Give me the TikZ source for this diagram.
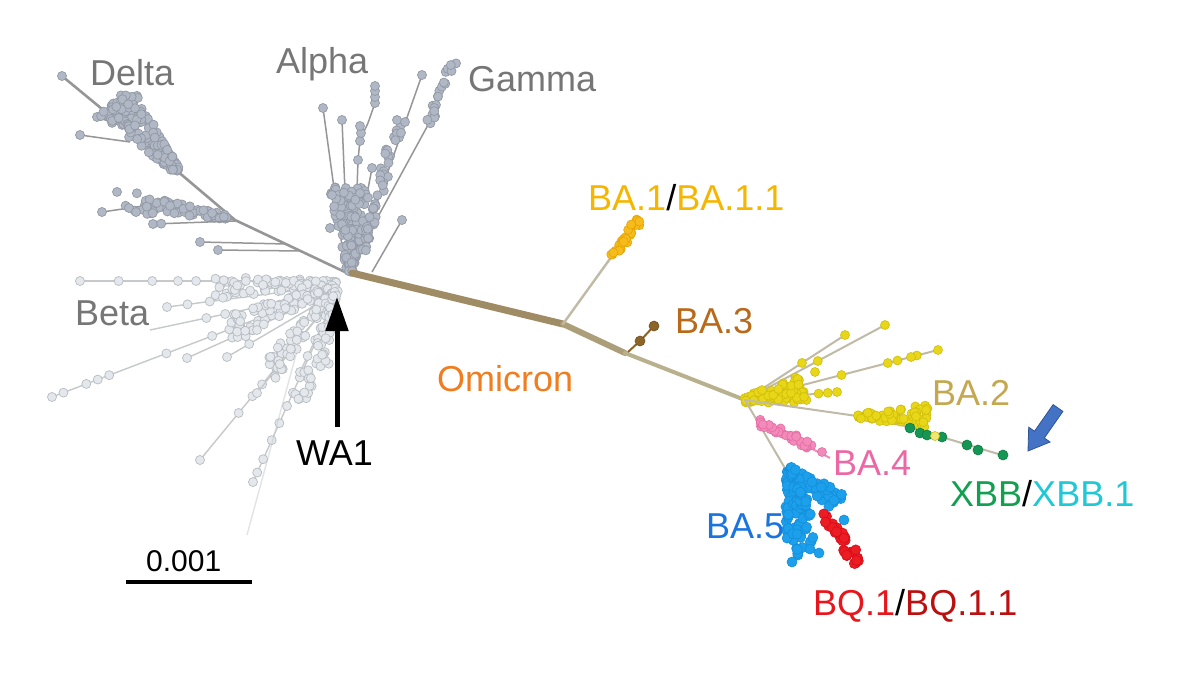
\documentclass[tikz,border=0pt]{standalone}
\usepackage{fontspec}
\setmainfont{Liberation Sans}
\usetikzlibrary{calc,arrows.meta}
\definecolor{cGrayTxt}{RGB}{118,118,118}
\definecolor{cDfill}{RGB}{176,184,198}
\definecolor{cDdraw}{RGB}{146,152,164}
\definecolor{cDline}{RGB}{150,150,152}
\definecolor{cBfill}{RGB}{228,232,237}
\definecolor{cBdraw}{RGB}{182,188,194}
\definecolor{cBline}{RGB}{198,200,202}
\definecolor{cTrunkA}{RGB}{160,140,100}
\definecolor{cTrunkB}{RGB}{172,158,120}
\definecolor{cTrunkC}{RGB}{185,176,142}
\definecolor{cTwig}{RGB}{192,186,166}
\definecolor{cYfill}{RGB}{232,214,24}
\definecolor{cYdraw}{RGB}{208,190,10}
\definecolor{cGfill}{RGB}{246,188,30}
\definecolor{cGdraw}{RGB}{230,165,0}
\definecolor{cBrown}{RGB}{140,100,40}
\definecolor{cPfill}{RGB}{242,138,186}
\definecolor{cPdraw}{RGB}{228,108,164}
\definecolor{cBlfill}{RGB}{28,160,236}
\definecolor{cBldraw}{RGB}{20,142,218}
\definecolor{cRfill}{RGB}{236,28,36}
\definecolor{cRdraw}{RGB}{214,12,22}
\definecolor{cGrfill}{RGB}{22,150,84}
\definecolor{cGrdraw}{RGB}{10,124,64}
\definecolor{tOmi}{RGB}{240,125,30}
\definecolor{tBA1}{RGB}{246,182,0}
\definecolor{tBA3}{RGB}{184,106,26}
\definecolor{tBA2}{RGB}{196,168,80}
\definecolor{tBA4}{RGB}{236,104,164}
\definecolor{tXBB}{RGB}{18,160,80}
\definecolor{tXBB1}{RGB}{32,200,214}
\definecolor{tBA5}{RGB}{26,116,224}
\definecolor{tBQ1}{RGB}{232,22,28}
\definecolor{tBQ11}{RGB}{186,16,16}
\definecolor{cArrow}{RGB}{68,114,196}
\definecolor{cArrowD}{RGB}{47,85,151}

% blob{style}{ax}{ay}{bx}{by}{n}{w0}{w1}
\newcommand\blob[8]{%
  \pgfmathsetmacro\zdx{#4-#2}%
  \pgfmathsetmacro\zdy{#5-#3}%
  \pgfmathsetmacro\zlen{veclen(\zdx,\zdy)}%
  \pgfmathsetmacro\znx{-\zdy/\zlen}%
  \pgfmathsetmacro\zny{\zdx/\zlen}%
  \foreach \zi in {1,...,#6}{%
    \pgfmathsetmacro\zu{rnd}%
    \pgfmathsetmacro\zv{(2*rnd-1)*(#7+(#8-#7)*\zu)}%
    \pgfmathsetmacro\zx{#2+\zu*\zdx+\zv*\znx}%
    \pgfmathsetmacro\zy{#3+\zu*\zdy+\zv*\zny}%
    \node[#1] at (\zx,\zy) {};
  }}
% tw{linestyle}{dotstyle}{a}{b}{fractions}
\newcommand\tw[5]{%
  \draw[#1] (#3) -- (#4);
  \foreach \ff in {#5}{\node[#2] at ($(#3)!\ff!(#4)$) {};}}

\begin{document}
\begin{tikzpicture}[x=1pt,y=-1pt,
  dl/.style={draw=cDline, line width=1.5pt},
  dlT/.style={draw=cDline, line width=2.6pt, line cap=round, line join=round},
  bl/.style={draw=cBline, line width=1.4pt},
  dd/.style={circle, inner sep=0pt, minimum size=9pt, fill=cDfill, draw=cDdraw, line width=0.7pt},
  bd/.style={circle, inner sep=0pt, minimum size=9pt, fill=cBfill, draw=cBdraw, line width=0.7pt},
  yd/.style={circle, inner sep=0pt, minimum size=9pt, fill=cYfill, draw=cYdraw, line width=0.6pt},
  gd/.style={circle, inner sep=0pt, minimum size=9pt, fill=cGfill, draw=cGdraw, line width=0.6pt},
  pd/.style={circle, inner sep=0pt, minimum size=9pt, fill=cPfill, draw=cPdraw, line width=0.6pt},
  bld/.style={circle, inner sep=0pt, minimum size=10pt, fill=cBlfill, draw=cBldraw, line width=0.6pt},
  rd/.style={circle, inner sep=0pt, minimum size=10pt, fill=cRfill, draw=cRdraw, line width=0.6pt},
  grd/.style={circle, inner sep=0pt, minimum size=10pt, fill=cGrfill, draw=cGrdraw, line width=0.6pt},
  brd/.style={circle, inner sep=0pt, minimum size=10pt, fill=cBrown, draw=cBrown!80!black, line width=0.6pt},
  twig/.style={draw=cTwig, line width=2pt, line cap=round, line join=round},
  lab/.style={inner sep=0pt, anchor=base west, font=\fontsize{36}{40}\selectfont},
  ]
\useasboundingbox[fill=white] (0,0) rectangle (1200,675);
\pgfmathsetseed{4242}

% ================= Beta (light grey) =================
\tw{bl}{bd}{338,281}{80,281}{1,.85,.72,.62,.55,.45}
\tw{bl}{bd}{338,285}{167,307}{1,.88,.75}
\tw{bl}{bd}{338,288}{52,397}{1,.96,.88,.84,.80,.60,.44,.38}
\tw{bl}{bd}{338,290}{187,358}{1,.7}
\tw{bl}{bd}{338,292}{227,357}{1,.8}
\tw{bl}{bd}{338,292}{200,460}{1,.72,.62,.55,.45}
\tw{bl}{bd}{338,292}{253,482}{1,.95,.88,.78,.69,.6,.53,.45}
\tw{bl}{bd}{338,292}{257,393}{1,.75}
\tw{bl}{bd}{338,292}{300,372}{1,.8,.6}
\tw{bl}{bd}{338,290}{150,330}{.7,.6}
\draw[bl, opacity=.5] (300,340) -- (247,535);
\blob{bd}{336}{282}{215}{288}{80}{2}{11}
\blob{bd}{336}{285}{232}{328}{80}{2}{14}
\blob{bd}{336}{288}{268}{372}{60}{2}{12}
\blob{bd}{336}{290}{300}{400}{35}{2}{8}
\blob{bd}{336}{290}{322}{370}{25}{2}{6}

% ================= Delta =================
\draw[dlT] (345,272) -- (235,220) -- (176,170) -- (62,76);
\node[dd] at (62,76) {};
\tw{dl}{dd}{130,142}{80,135}{1}
\tw{dl}{dd}{138,132}{97,117}{1}
\blob{dd}{178}{172}{115}{100}{140}{3}{22}
\blob{dd}{140}{125}{118}{102}{30}{10}{14}
\draw[dl] (235,220) -- (140,206);
\tw{dl}{dd}{150,205}{102,212}{1}
\blob{dd}{228}{217}{115}{200}{70}{2}{12}
\tw{dl}{dd}{235,221}{153,224}{1,.9}
\tw{dl}{dd}{286,244}{200,242}{1}
\tw{dl}{dd}{300,251}{218,250}{1}

% ================= Alpha / Gamma =================
\tw{dl}{dd}{345,268}{323,108}{1}
\tw{dl}{dd}{348,262}{342,120}{1}
\draw[dl] (352,262) -- (357,190) -- (358,160) -- (360,140) -- (368,123) -- (375,103) -- (375,87);
\foreach \p in {(358,160),(360,141),(361,133),(360,126),(375,103),(375,97),(375,91),(375,86)} \node[dd] at \p {};
\tw{dl}{dd}{365,205}{372,168}{1}
\tw{dl}{dd}{355,265}{422,75}{1}
\draw[dl] (350,268) -- (428,125);
\blob{dd}{429}{124}{455}{57}{20}{3}{4}
\tw{dl}{dd}{372,272}{402,220}{1}
\blob{dd}{350}{272}{350}{185}{150}{3}{21}
\blob{dd}{362}{255}{398}{123}{50}{3}{6}
\foreach \p in {(332,195),(330,228),(397,120),(405,122)} \node[dd] at \p {};

% ================= Omicron trunk =================
\draw[draw=cTrunkA, line width=7pt, line cap=round] (352,273) -- (563,324);
\draw[draw=cTrunkB, line width=6pt, line cap=round] (563,324) -- (625,353);
\draw[draw=cTrunkC, line width=4pt, line cap=round] (625,353) -- (745,400);

% BA.1
\draw[twig, line width=2.4pt] (563,324) -- (612,256);
\blob{gd}{612}{256}{640}{220}{30}{3}{5}

% BA.3
\draw[draw=cBrown, line width=2pt] (628,352) -- (640,341) -- (654,326);
\node[brd] at (640,341) {};
\node[brd] at (654,326) {};

% ================= BA.2 =================
\tw{twig}{yd}{745,400}{885,325}{1,.52}
\tw{twig}{yd}{745,400}{845,335}{1,.57}
\tw{twig}{yd}{745,400}{938,350}{1,.89,.86,.79,.74,.5}
\tw{twig}{yd}{745,400}{837,392}{1,.9,.8}
\blob{yd}{745}{400}{805}{388}{85}{3}{15}
\node[yd] at (815,372) {};
\draw[twig] (745,400) -- (857,416) -- (905,426) -- (1005,456);
\blob{yd}{857}{416}{928}{416}{60}{2}{12}
\foreach \p in {(910,428),(920,433),(927,435),(942,437),(967,445),(978,450),(1003,455)} \node[grd] at \p {};
\node[yd, fill=cYfill!60] at (935,436) {};

% ================= BA.4 / BA.5 / BQ.1 =================
\draw[twig] (745,400) -- (786,470);
\draw[draw=cPfill, line width=2pt] (756,420) -- (830,458);
\blob{pd}{758}{422}{812}{447}{30}{3}{5}
\node[pd] at (822,452) {};
\blob{bld}{789}{468}{796}{556}{65}{4}{9}
\blob{bld}{789}{468}{838}{503}{45}{4}{10}
\blob{bld}{798}{480}{814}{545}{25}{3}{6}
\foreach \p in {(792,562),(810,549),(819,553),(844,520)} \node[bld] at \p {};
\blob{rd}{822}{512}{858}{562}{35}{3}{6}

% ================= arrows =================
\coordinate (waTail) at (337,427);
\coordinate (waTip) at (337,297);
\draw[line width=5pt, -{Triangle[length=34pt,width=22pt]}] (waTail) -- (waTip);
\fill[cArrow, draw=cArrowD, line width=0.8pt] (1053.1,404.6) -- (1034.5,431.2) -- (1028.7,427.2) -- (1028,451) -- (1050.1,442.0) -- (1044.3,438.0) -- (1062.9,411.4) -- cycle;

% scale bar
\coordinate (sbA) at (126,582);
\coordinate (sbB) at (252,582);
\draw[line width=4pt] (sbA) -- (sbB);
\node[inner sep=0pt, anchor=base west, font=\fontsize{30}{34}\selectfont] (scale) at (146,571) {0.001};

% ================= labels =================
\node[lab, text=cGrayTxt] (delta) at (90,85) {Delta};
\node[lab, text=cGrayTxt] (alpha) at (276,73) {Alpha};
\node[lab, text=cGrayTxt] (gamma) at (468,91) {Gamma};
\node[lab, text=cGrayTxt] (beta) at (75,325) {Beta};
\node[lab] (wa1) at (296,465) {WA1};
\node[lab, text=tOmi] (omicron) at (437,391) {Omicron};
\node[lab] (ba1) at (588,210) {\textcolor{tBA1}{BA.1}/\textcolor{tBA1}{BA.1.1}};
\node[lab, text=tBA3] (ba3) at (675,333) {BA.3};
\node[lab, text=tBA2] (ba2) at (932,405) {BA.2};
\node[lab, text=tBA4] (ba4) at (833,475) {BA.4};
\node[lab] (xbb) at (950,506) {\textcolor{tXBB}{XBB}/\textcolor{tXBB1}{XBB.1}};
\node[lab, text=tBA5] (ba5) at (706,538) {BA.5};
\node[lab] (bq1) at (813,615) {\textcolor{tBQ1}{BQ.1}/\textcolor{tBQ11}{BQ.1.1}};
\end{tikzpicture}
\end{document}
